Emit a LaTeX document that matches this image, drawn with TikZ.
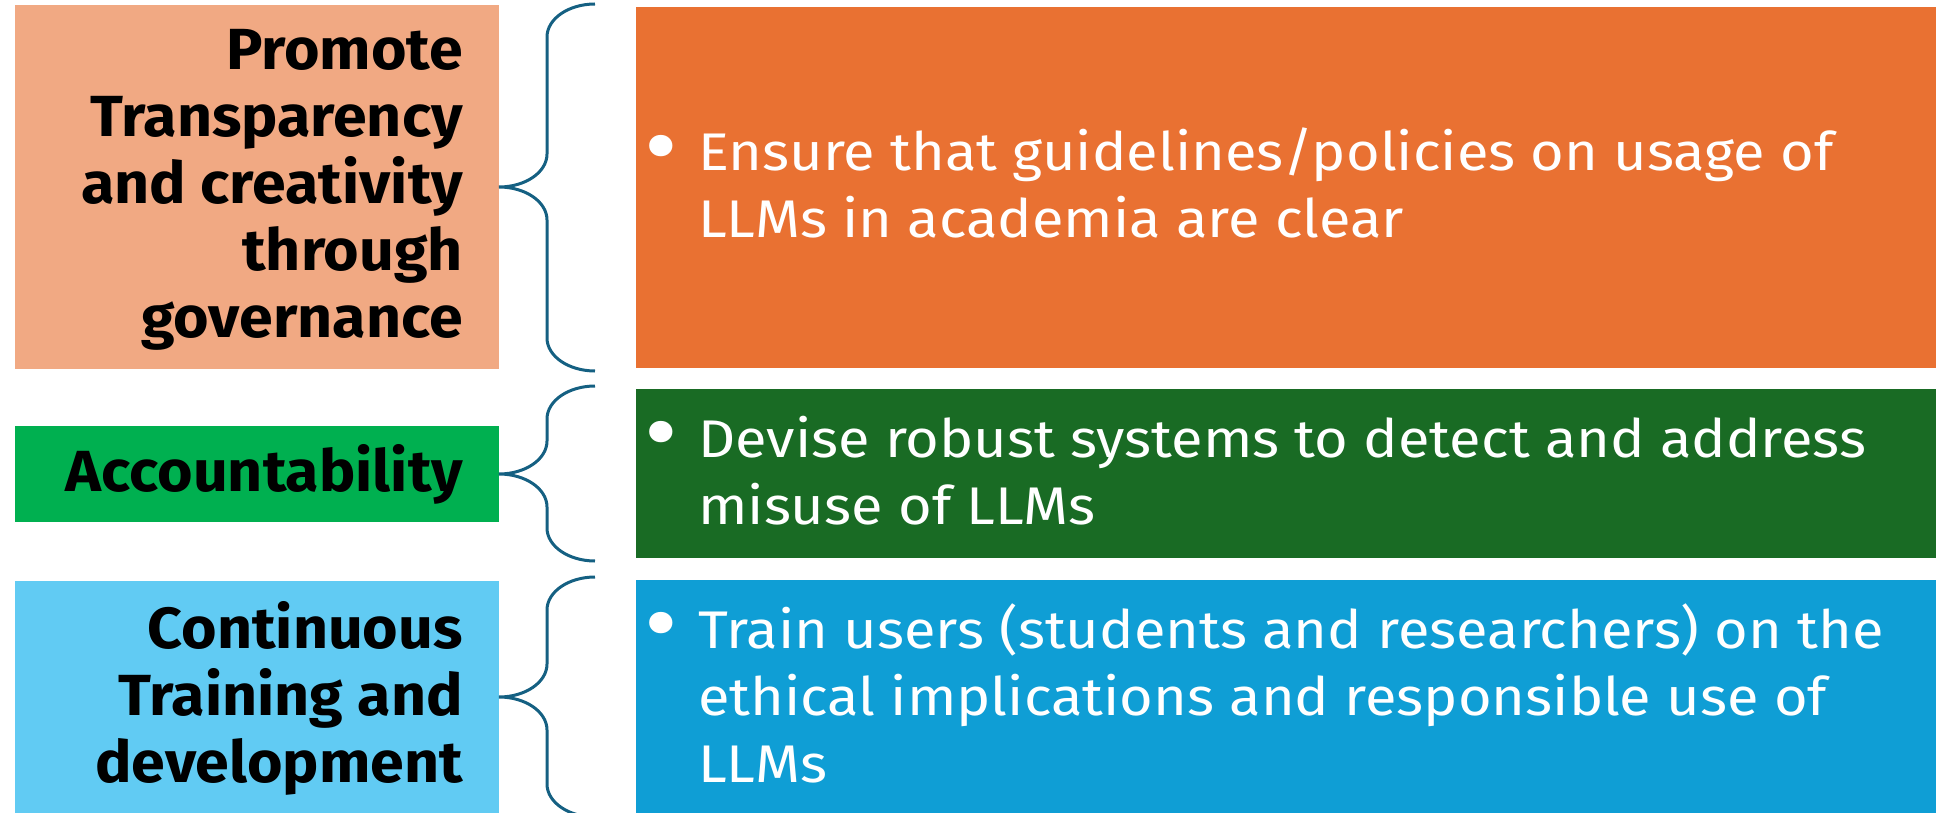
\documentclass[tikz,border=0pt]{standalone}
\usepackage{fontspec}
\setmainfont{Fira Sans}
\newfontfamily\lblfont{Fira Sans}[FakeStretch=1.05]
\newfontfamily\bodyfont{Fira Sans}[FakeStretch=1.09]
\usetikzlibrary{calc}
\definecolor{salmonbox}{HTML}{F1A983}
\definecolor{accgreen}{HTML}{00B050}
\definecolor{lightblue}{HTML}{61CBF3}
\definecolor{orangebox}{HTML}{E97132}
\definecolor{darkgreen}{HTML}{196B24}
\definecolor{bluebox}{HTML}{0F9ED5}
\definecolor{bracecol}{HTML}{156082}
\tikzset{
  box/.style={draw=none, inner sep=0pt, outer sep=0pt, anchor=north west},
  ltext/.style={font=\lblfont\fontsize{58}{67}\selectfont\bfseries, align=right, inner sep=0pt, text=black},
  rtext/.style={font=\bodyfont\fontsize{53}{67}\selectfont, align=left, inner sep=0pt, text=white},
  bracestyle/.style={draw=bracecol, line width=3pt}
}
\newcommand\drawbrace[2]{%
  \path[bracestyle] let \p1=(#1.east), \p2=(#2.north west), \p3=(#2.south west) in
    (\x1+96pt,\y2+3pt) .. controls (\x1+69.5pt,\y2+3pt) and (\x1+48pt,\y2-11.8pt) .. (\x1+48pt,\y2-30pt)
    -- (\x1+48pt,\y1+33pt) .. controls (\x1+48pt,\y1+14.8pt) and (\x1+26.5pt,\y1) .. (\x1,\y1)
    .. controls (\x1+26.5pt,\y1) and (\x1+48pt,\y1-14.8pt) .. (\x1+48pt,\y1-33pt)
    -- (\x1+48pt,\y3+30pt) .. controls (\x1+48pt,\y3+11.8pt) and (\x1+69.5pt,\y3-3pt) .. (\x1+96pt,\y3-3pt);%
}
\newcommand\bul{\llap{\raisebox{-7.5pt}{\fontsize{95}{67}\selectfont\textbullet}\hspace{20pt}}}
\begin{document}
\begin{tikzpicture}[x=1pt,y=-1pt]
\useasboundingbox (0,0) rectangle (1936,813);
\clip (0,0) rectangle (1936,813);
% left boxes
\node[box, fill=salmonbox, minimum width=484pt, minimum height=364pt] (l1) at (15,5) {};
\node[box, fill=accgreen, minimum width=484pt, minimum height=96pt] (l2) at (15,426) {};
\node[box, fill=lightblue, minimum width=484pt, minimum height=232pt] (l3) at (15,581) {};
% right boxes
\node[box, fill=orangebox, minimum width=1300pt, minimum height=361pt] (r1) at (636,7) {};
\node[box, fill=darkgreen, minimum width=1300pt, minimum height=169pt] (r2) at (636,389) {};
\node[box, fill=bluebox, minimum width=1300pt, minimum height=234pt] (r3) at (636,580) {};
% left labels (base = last line)
\node[ltext, anchor=base east] (t1) at (463,337) {Promote\\Transparency\\and creativity\\through\\governance};
\node[ltext, anchor=base east] (t2) at (463,491) {Accountability};
\node[ltext, anchor=base east] (t3) at (463,782) {Continuous\\Training and\\development};
% right texts
\node[rtext, anchor=base west] (s1) at (698,238) {\bul Ensure that guidelines/policies on usage of\\LLMs in academia are clear};
\node[rtext, anchor=base west] (s2) at (698,524) {\bul Devise robust systems to detect and address\\misuse of LLMs};
\node[rtext, anchor=base west] (s3) at (698,782) {\bul Train users (students and researchers) on the\\ethical implications and responsible use of\\LLMs};
% braces
\drawbrace{l1}{r1}
\drawbrace{l2}{r2}
\drawbrace{l3}{r3}
\end{tikzpicture}
\end{document}
